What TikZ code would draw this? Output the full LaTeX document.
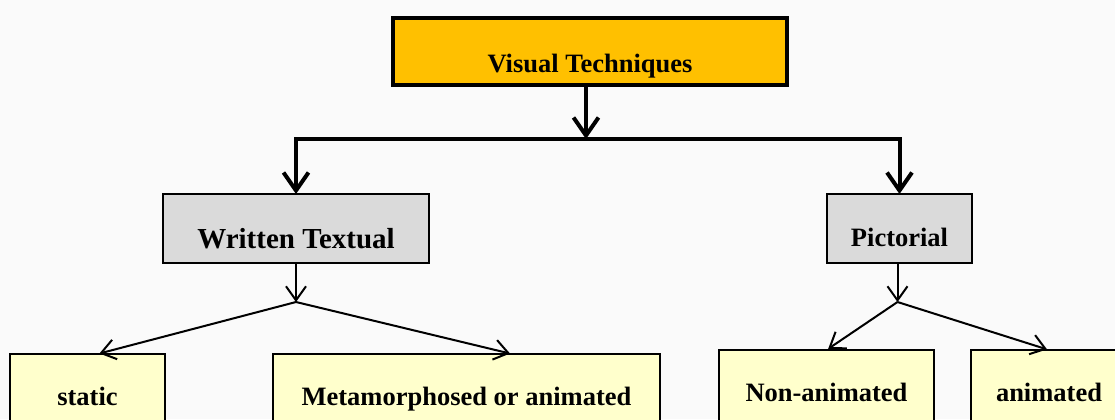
\documentclass[tikz,border=0pt]{standalone}
\usepackage{fontspec}
\setmainfont{Liberation Serif}
\usetikzlibrary{arrows.meta}
\definecolor{orangebox}{HTML}{FFC000}
\definecolor{greybox}{HTML}{DADADA}
\definecolor{yellowbox}{HTML}{FFFFCC}
\definecolor{paper}{HTML}{FAFAFA}
\tikzset{
  box/.style={draw, outer sep=0pt, inner xsep=0pt, inner ysep=0pt,
    font=\bfseries\fontsize{13.25}{16}\selectfont},
  topbox/.style={box, fill=orangebox, line width=2pt, minimum width=197pt,
    text height=27pt, text depth=6.5pt},
  midbox/.style={box, fill=greybox, line width=1pt},
  leafbox/.style={box, fill=yellowbox, line width=1pt, text height=25.5pt, text depth=13pt},
  bigarrow/.style={line width=2pt, -{Straight Barb[length=9pt,width=12.5pt]}},
  smallarrow/.style={line width=1pt, -{Straight Barb[length=7pt,width=10pt]}}
}

\begin{document}
\begin{tikzpicture}[x=0.5pt,y=-0.5pt]
  % Page (pixels of the reference)
  \useasboundingbox (0,0) rectangle (1115,419);
  \clip (0,0) rectangle (1115,419);
  \fill[paper] (0,0) rectangle (1115,419);
  % Top box
  \node[topbox, anchor=north] (vis) at (590,18) {Visual Techniques};
  % Second level
  \node[midbox, anchor=north, minimum width=133pt, text height=27pt, text depth=7.5pt,
    font=\bfseries\fontsize{14.5}{17}\selectfont] (wt) at (296,194) {Written Textual};
  \node[midbox, anchor=north, minimum width=72.5pt, text height=26pt, text depth=8.5pt]
    (pic) at (899.5,194) {Pictorial};
  % Leaves
  \node[leafbox, anchor=north, minimum width=77.5pt]  (stat)  at (87.5,354)  {static};
  \node[leafbox, anchor=north, minimum width=193.5pt] (meta)  at (466.5,354) {Metamorphosed or animated};
  \node[leafbox, anchor=north, minimum width=107.5pt] (nonan) at (826.5,350) {Non-animated};
  \node[leafbox, anchor=north, minimum width=78pt]    (anim)  at (1049,350)  {animated};
  % Thick arrows
  \coordinate (bar) at (586,139);
  \draw[bigarrow] (vis.south -| bar) -- (bar);
  \draw[bigarrow] (bar) -| (wt.north);
  \draw[bigarrow] (bar) -| (pic.north);
  % Thin arrows
  \path (wt.south) ++(0,39) coordinate (wtj);
  \path (pic.south) ++(-2,39) coordinate (picj);
  \draw[smallarrow] (wt.south) -- (wtj);
  \draw[smallarrow, shorten >=1pt] (wtj) -- ([xshift=5pt]stat.north);
  \draw[smallarrow, shorten >=1pt] (wtj) -- ([xshift=22.75pt]meta.north);
  \draw[smallarrow] (pic.south -| picj) -- (picj);
  \draw[smallarrow, shorten >=1pt] (picj) -- (nonan.north);
  \draw[smallarrow, shorten >=1pt] (picj) -- (anim.north);
\end{tikzpicture}
\end{document}
